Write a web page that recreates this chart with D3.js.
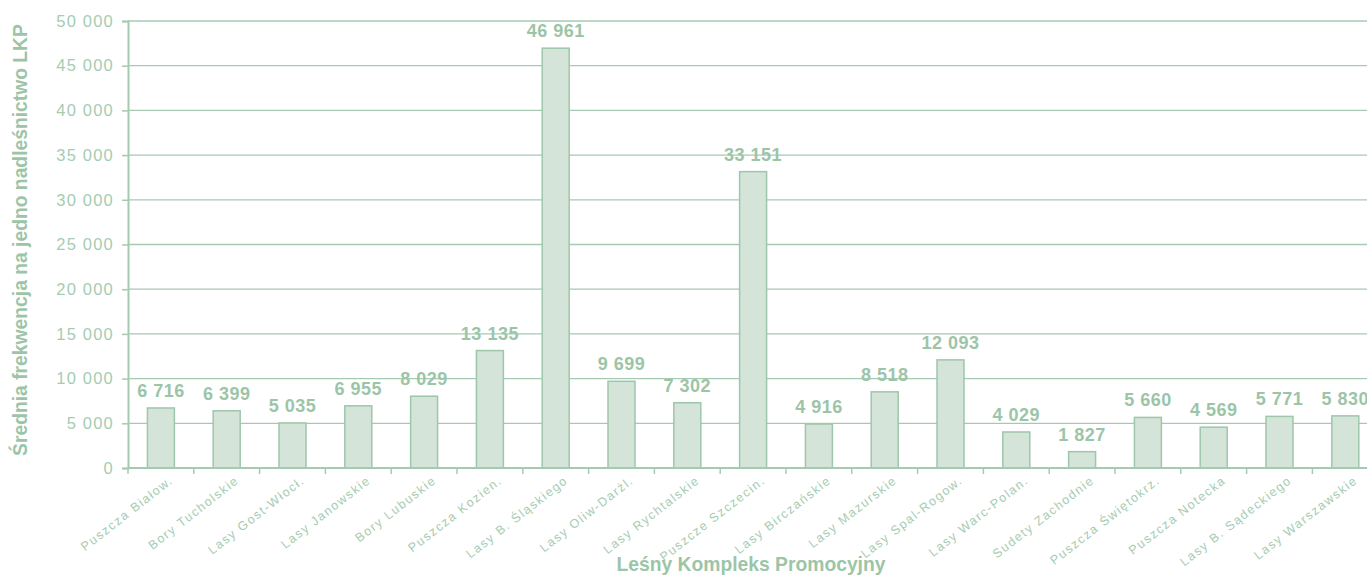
<!DOCTYPE html>
<html><head><meta charset="utf-8">
<script src="https://cdn.jsdelivr.net/npm/d3@7/dist/d3.min.js"></script>
<style>
html,body{margin:0;padding:0;background:#fff;overflow:hidden}
svg{display:block;font-family:"Liberation Sans",Arial,sans-serif}
</style></head>
<body><svg id="c" width="1367" height="576"></svg>
<script>
const categories = ["Puszcza Białow.","Bory Tucholskie","Lasy Gost-Włocł.","Lasy Janowskie","Bory Lubuskie","Puszcza Kozien.","Lasy B. Śląskiego","Lasy Oliw-Darżl.","Lasy Rychtalskie","Puszcze Szczecin.","Lasy Birczańskie","Lasy Mazurskie","Lasy Spal-Rogow.","Lasy Warc-Polan.","Sudety Zachodnie","Puszcza Świętokrz.","Puszcza Notecka","Lasy B. Sądeckiego","Lasy Warszawskie"];
const values = [6716,6399,5035,6955,8029,13135,46961,9699,7302,33151,4916,8518,12093,4029,1827,5660,4569,5771,5830];
const yTicks = [0,5000,10000,15000,20000,25000,30000,35000,40000,45000,50000];
const yTitle = "Średnia frekwencja na jedno nadleśnictwo LKP";
const xTitle = "Leśny Kompleks Promocyjny";

const svg = d3.select("#c");
const x0 = 128, x1 = 128 + 19*65.8, yBottom = 468, yTop = 21;
const x = d3.scaleBand().domain(categories).range([x0, x1]).paddingInner(0.59).paddingOuter(0.295);
const y = d3.scaleLinear().domain([0,50000]).range([yBottom, yTop]);
const fmt = v => d3.format(",")(v).replace(/,/g, " ");

const txt = "#a6ccb2", lineC = "#a6cab1", barFill = "#d4e4d9", barStroke = "#9ec6aa", titleC = "#9cc5a8";

// gridlines
svg.append("g").selectAll("line").data(yTicks.filter(d=>d>0)).join("line")
  .attr("x1", x0).attr("x2", 1367).attr("y1", d=>y(d)).attr("y2", d=>y(d))
  .attr("stroke", lineC).attr("stroke-width", 1.3);

// y axis
const ya = svg.append("g").attr("transform", `translate(${x0},0)`)
  .call(d3.axisLeft(y).tickValues(yTicks).tickFormat(fmt).tickSize(6).tickPadding(8));
ya.select(".domain").attr("stroke", lineC).attr("stroke-width", 2);
ya.selectAll(".tick line").attr("stroke", lineC).attr("stroke-width", 1.5);
ya.selectAll(".tick text").attr("fill", txt).attr("font-size", 16.5).attr("letter-spacing", 1.2)
  .attr("font-family", "Liberation Sans, Arial, sans-serif");

// bars
svg.append("g").selectAll("rect").data(values).join("rect")
  .attr("x", (d,i)=>x(categories[i])).attr("width", x.bandwidth())
  .attr("y", d=>y(d)).attr("height", d=>yBottom - y(d))
  .attr("fill", barFill).attr("stroke", barStroke).attr("stroke-width", 1.5);

// value labels
svg.append("g").selectAll("text").data(values).join("text")
  .attr("x", (d,i)=>x(categories[i]) + x.bandwidth()/2)
  .attr("y", d=>y(d) - 11)
  .attr("text-anchor", "middle").attr("fill", titleC)
  .attr("font-size", 18).attr("font-weight", "bold").attr("letter-spacing", 0.5)
  .text(fmt);

// x axis
svg.append("line").attr("x1", x0).attr("x2", 1367).attr("y1", yBottom).attr("y2", yBottom)
  .attr("stroke", lineC).attr("stroke-width", 2);
svg.append("g").selectAll("line").data(d3.range(20)).join("line")
  .attr("x1", i=>x0 + i*x.step()).attr("x2", i=>x0 + i*x.step())
  .attr("y1", yBottom).attr("y2", yBottom + 6)
  .attr("stroke", lineC).attr("stroke-width", 1.5);

// x labels
svg.append("g").selectAll("text").data(categories).join("text")
  .attr("transform", d=>`translate(${x(d) + x.bandwidth()/2 + 13},${yBottom + 14}) rotate(-38)`)
  .attr("text-anchor", "end").attr("fill", txt)
  .attr("font-size", 12.5).attr("letter-spacing", 1.5)
  .text(d=>d);

// titles
svg.append("text").attr("transform", `translate(27,240) rotate(-90)`)
  .attr("text-anchor", "middle").attr("fill", titleC)
  .attr("font-size", 19.3).attr("font-weight", "bold").text(yTitle);
svg.append("text").attr("x", 751).attr("y", 571)
  .attr("text-anchor", "middle").attr("fill", titleC)
  .attr("font-size", 19.3).attr("font-weight", "bold").text(xTitle);
</script></body></html>
